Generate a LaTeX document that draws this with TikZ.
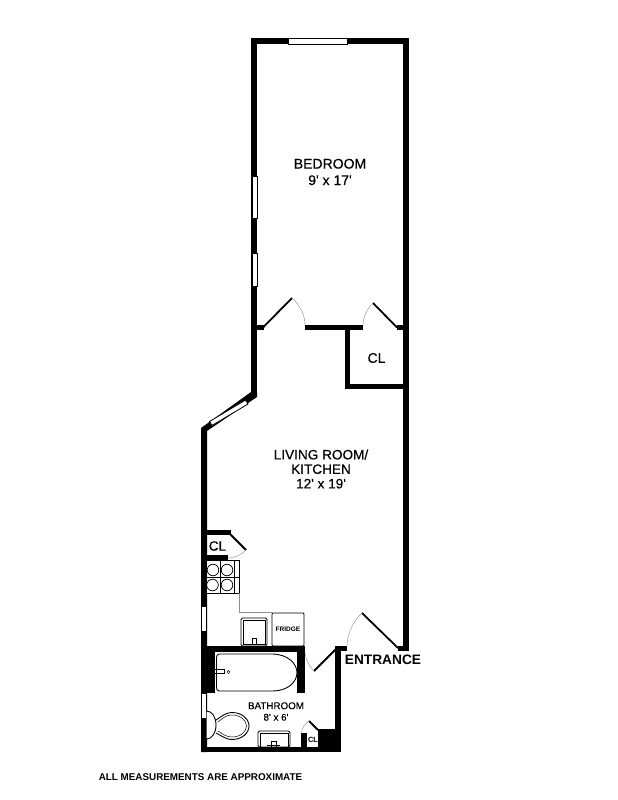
\documentclass[tikz,border=0pt]{standalone}
\usepackage{fontspec}
\setmainfont{Liberation Sans}
\newfontfamily\semi[FakeBold=0.35]{Liberation Sans}
\tikzset{
  wall/.style={fill=black,draw=none},
  winw/.style={fill=white,draw=black,line width=0.7pt},
  leaf/.style={draw=black,line width=1.8pt},
  swing/.style={draw=black!40,line width=0.5pt},
  fixture/.style={draw=black,line width=0.8pt,fill=white},
  thin/.style={draw=black,line width=0.5pt},
  counter/.style={draw=black!45,line width=0.7pt},
  lbl/.style={align=center,inner sep=0pt},
}
\begin{document}
\begin{tikzpicture}[x=1pt,y=-1pt]
\useasboundingbox[fill=white] (0,0) rectangle (618,800);
% Bedroom shell
\path[wall] (251,38) rectangle (409,44);
\path[wall] (251,38) rectangle (257,395);
\path[wall] (403,38) rectangle (409,651);
\path[winw] (288.5,38.5) rectangle (347,44);
\path[winw] (252,176) rectangle (257,218);
\path[winw] (252,253) rectangle (257,286);
% Bedroom bottom wall and closet
\path[wall] (257,325) rectangle (264,330);
\path[wall] (305,325) rectangle (363,330);
\path[wall] (397,325) rectangle (403,330);
\path[wall] (345,330) rectangle (350,389);
\path[wall] (345,384) rectangle (403,389);
\draw[leaf] (263,327.5) -- (292,298);
\draw[swing] (292,298) .. controls (300,305) and (305,315) .. (305,325);
\draw[leaf] (397,327.5) -- (373,303);
\draw[swing] (373,303) .. controls (367,309) and (363,317) .. (363,325);
% Diagonal wall with window
\path[wall] (251,392) -- (257,392) -- (257,397) -- (207,431) -- (207,752) -- (201,752) -- (201,428) -- cycle;
\path[fill=white,draw=black,line width=0.8pt] (209.5,421.5) -- (245.5,400) -- (248,404) -- (212,425.5) -- cycle;
% Left wall window
\path[winw] (201.5,606) rectangle (206.5,631);
% Kitchen closet
\path[wall] (207,530) rectangle (231,535);
\path[wall] (207,555) rectangle (228,560);
\draw[leaf] (228,532) -- (246,550);
\draw[swing] (246,550) .. controls (241,555) and (235,558) .. (228,558);
% Stove
\draw[fixture] (206.5,560.5) rectangle (239,593);
\draw[thin] (220,560.5) -- (220,593) (206.5,577) -- (239,577) (234,560.5) -- (234,593);
\foreach \cx/\cy in {213/570,227/570,212.5/585,227/585}
  \draw[thin,line width=0.7pt] (\cx,\cy) circle (5.8);
% Counter
\draw[counter] (239,593) -- (239,612) -- (272,612);
% Kitchen sink
\draw[fixture,rounded corners=1.5pt] (241,618) rectangle (267,646);
\draw[thin] (243,620) rectangle (265,644);
\draw[thin] (252,644) -- (252,638) -- (256,638) -- (256,644);
\draw[thin] (249,644) -- (259,644);
% Fridge
\draw[fixture,rounded corners=1pt] (272,613) rectangle (304,646);
\node[inner sep=0pt,font=\bfseries\fontsize{6.5}{7}\selectfont] (fridge) at (288,629.5) {FRIDGE};
% Bathroom walls
\path[wall] (201,646) rectangle (305,652);
\path[wall] (201,652) rectangle (215,693);
\path[wall] (297,646) rectangle (305,693);
\path[wall] (201,747) rectangle (340,752);
\path[wall] (335,646) rectangle (341,752);
\path[wall] (318,729) rectangle (341,752);
\path[wall] (301,733) rectangle (307,752);
\path[winw] (201.5,693) rectangle (206.5,718);
% Bathroom door
\path[wall] (335,646) rectangle (347,651);
\draw[leaf] (337,648) -- (314,671);
\draw[swing] (314,671) .. controls (309,666) and (305,658) .. (305,651);
% Entrance door
\path[wall] (398,646) rectangle (409,651);
\draw[leaf] (398,648) -- (362,613);
\draw[swing] (362,613) .. controls (353,621) and (347,634) .. (347,646);
% Tub
\draw[fixture,line width=0.9pt] (219,654) -- (272,654) .. controls (288,654) and (297,664) .. (297,672.5) .. controls (297,682) and (288,691) .. (272,691) -- (219,691) .. controls (217,691) and (216.5,689) .. (216.5,687) -- (216.5,658) .. controls (216.5,656) and (217,654) .. (219,654) -- cycle;
\draw[thin] (215,669) -- (224,669) -- (224,673) -- (215,673);
\draw[thin] (228.5,672) circle (1.6);
% Toilet
\draw[fixture,line width=0.9pt] (216,720) .. controls (222,716) and (226,712.5) .. (232,712.5) .. controls (242,712.5) and (249,719) .. (249,726) .. controls (249,733) and (242,739.5) .. (232,739.5) .. controls (226,739.5) and (222,736) .. (216,733);
\draw[thin] (218,722) .. controls (224,717) and (227,715) .. (232,715) .. controls (240,715) and (246.5,720) .. (246.5,726) .. controls (246.5,732) and (240,737) .. (232,737) .. controls (227,737) and (224,735) .. (218,731);
\draw[fixture,line width=0.9pt] (206.5,711) .. controls (212,711) and (216,717) .. (216,725) .. controls (216,733) and (212,739) .. (206.5,739);
% Bath sink
\draw[fixture,rounded corners=1.5pt] (258,731) rectangle (290,747);
\draw[thin] (260,733) rectangle (288,747);
\draw[thin] (271,747) -- (271,741) -- (276,741) -- (276,747);
\draw[thin] (267,745) -- (280,745);
% Small closet door
\draw[leaf] (309,721) -- (318,730);
\draw[swing] (309,721) .. controls (304.5,724) and (302,728) .. (301.5,733);
% Labels
\node[lbl,font=\semi\fontsize{14}{16.5}\selectfont] (bedroom) at (330,172) {BEDROOM\\9' x 17'};
\node[lbl,font=\semi\fontsize{13.6}{14.5}\selectfont] (living) at (321,469) {LIVING ROOM/\\KITCHEN\\12' x 19'};
\node[lbl,font=\semi\fontsize{14}{15}\selectfont] (cl1) at (376.5,358) {CL};
\node[lbl,font=\semi\fontsize{13.5}{15}\selectfont] (cl2) at (217.5,546) {CL};
\node[lbl,font=\semi\fontsize{9.8}{11.5}\selectfont] (bath) at (276,711.5) {BATHROOM\\8' x 6'};
\node[lbl,font=\bfseries\fontsize{7.5}{9}\selectfont] (cl3) at (313,739.5) {CL};
\node[lbl,font=\bfseries\fontsize{13.7}{15}\selectfont] (entrance) at (383,660) {ENTRANCE};
\node[lbl,font=\bfseries\fontsize{9.85}{10}\selectfont] (note) at (200.5,777) {ALL MEASUREMENTS ARE APPROXIMATE};
\end{tikzpicture}
\end{document}
